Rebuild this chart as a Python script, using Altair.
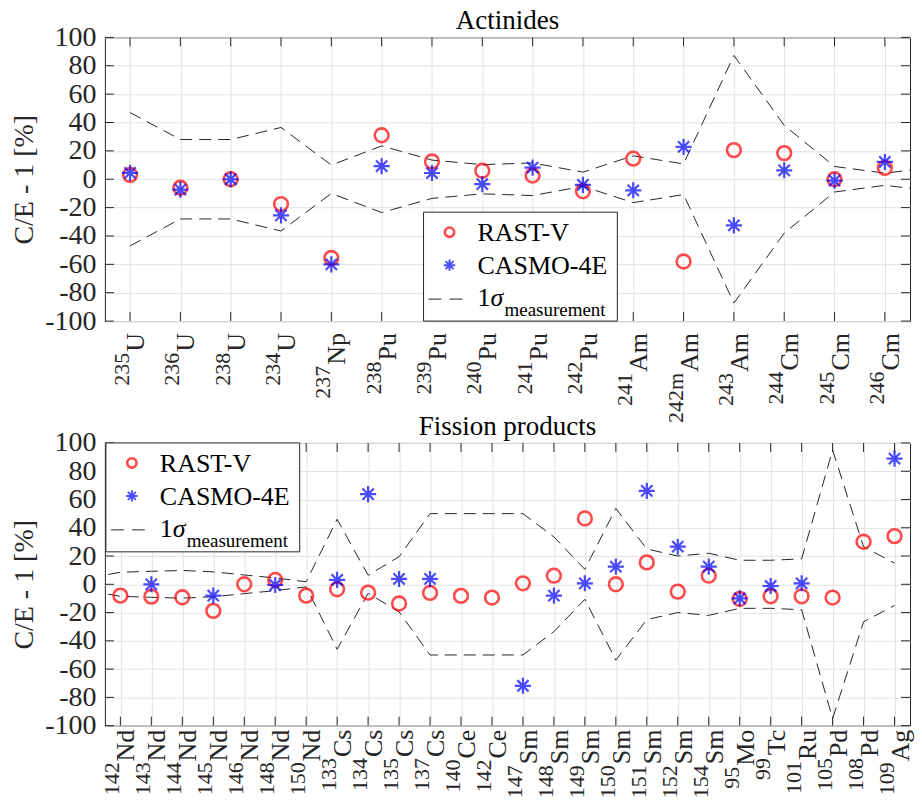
import altair as alt
import pandas as pd

FONT = "Liberation Serif"
INK = "#262626"
GRID = "#e2e2e2"

# ---------------- Actinides ----------------
act_mass = ["235", "236", "238", "234", "237", "238", "239", "240", "241", "242",
            "241", "242m", "243", "244", "245", "246"]
act_elem = ["U", "U", "U", "U", "Np", "Pu", "Pu", "Pu", "Pu", "Pu",
            "Am", "Am", "Am", "Cm", "Cm", "Cm"]
act_rast = [3.0, -6.0, 0.0, -17.5, -55.5, 31.0, 12.5, 6.0, 2.6, -8.5,
            14.5, -58.0, 20.5, 18.4, 0.0, 8.0]
act_casmo = [4.5, -7.3, 0.0, -25.5, -60.0, 9.2, 4.4, -3.5, 8.2, -4.0,
             -7.8, 22.8, -32.5, 6.3, -1.0, 12.2]
# 1-sigma measurement band (positions 1..17; the last one sits past the axis edge)
act_sigma_pos = list(range(1, 18))
act_sigma = [47.0, 28.0, 28.0, 36.5, 10.0, 23.5, 13.5, 10.3, 11.5, 5.0,
             16.5, 10.8, 87.3, 38.0, 9.0, 4.3, 8.5]

# ---------------- Fission products ----------------
fp_mass = ["142", "143", "144", "145", "146", "148", "150", "133", "134", "135",
           "137", "140", "142", "147", "148", "149", "150", "151", "152", "154",
           "95", "99", "101", "105", "108", "109"]
fp_elem = ["Nd", "Nd", "Nd", "Nd", "Nd", "Nd", "Nd", "Cs", "Cs", "Cs",
           "Cs", "Ce", "Ce", "Sm", "Sm", "Sm", "Sm", "Sm", "Sm", "Sm",
           "Mo", "Tc", "Ru", "Pd", "Pd", "Ag"]
fp_rast = [-8.0, -8.7, -9.2, -18.8, 0.0, 3.1, -8.0, -3.5, -5.9, -13.6,
           -6.1, -8.2, -9.4, 0.7, 6.1, 46.6, 0.0, 15.5, -5.2, 6.1,
           -10.4, -8.5, -8.5, -9.4, 30.1, 34.1]
fp_casmo = [None, 0.0, None, -8.0, None, -0.5, None, 3.1, 63.8, 3.8,
            3.8, None, None, -71.8, -8.0, 0.7, 12.5, 66.1, 26.6, 12.5,
            -9.9, -1.2, 0.7, None, None, 88.9]
# positions 0..26; the first one sits past the left axis edge
fp_sigma_pos = list(range(0, 27))
fp_sigma = [4.6, 8.5, 9.2, 9.8, 8.8, 6.6, 4.5, 1.8, 46.0, 6.4,
            19.5, 50.0, 50.0, 50.0, 50.0, 33.5, 10.6, 53.7, 25.0, 20.0,
            22.0, 17.0, 17.0, 18.0, 95.0, 26.5, 15.0]

Y_TICKS = list(range(-100, 101, 20))
ASTERISK = "M0,-1L0,1M-1,0L1,0M-0.7,-0.7L0.7,0.7M-0.7,0.7L0.7,-0.7"

# approximate advance widths (em) of the serif face, used to stack the
# superscript mass number right after the element symbol
EM = {"U": .722, "N": .722, "P": .556, "A": .722, "C": .667, "S": .556, "M": .889,
      "T": .611, "R": .667, "p": .5, "u": .5, "m": .778, "d": .5, "s": .389,
      "e": .444, "o": .5, "c": .444, "g": .5}

EL_SIZE = 26
MASS_SIZE = 22
W = 806


def panel(title, mass, elem, rast, casmo, sig_pos, sig, H, label_gap, leg_x, leg_y):
    n = len(mass)
    pos = list(range(1, n + 1))
    df = pd.DataFrame({"pos": pos, "mass": mass, "elem": elem,
                       "rast": rast, "casmo": casmo})
    band = pd.DataFrame({
        "pos": sig_pos + sig_pos,
        "val": sig + [-s for s in sig],
        "side": ["upper"] * len(sig) + ["lower"] * len(sig),
    })
    yt = pd.DataFrame({"v": Y_TICKS})
    one = pd.DataFrame({"k": [0]})

    xs = alt.Scale(domain=[0.5, n + 0.5], nice=False, zero=False)
    ys = alt.Scale(domain=[-100, 100], nice=False, zero=False)

    xax = alt.Axis(values=pos, labels=False, ticks=False, domain=False,
                   grid=True, gridColor=GRID, title=None)
    yax = alt.Axis(values=Y_TICKS, ticks=False, domain=False, grid=True,
                   gridColor=GRID, labelFont=FONT, labelFontSize=28,
                   labelColor=INK, labelPadding=9, labelOverlap=False,
                   labelBound=False, labelFlush=False,
                   labelExpr="'' + datum.value",
                   title="C/E - 1 [%]",
                   titleFont=FONT, titleFontSize=28, titleFontWeight="normal",
                   titleColor=INK, titlePadding=6)

    def X(field):
        return alt.X(field, scale=xs, axis=xax)

    def Y(field):
        return alt.Y(field, scale=ys, axis=yax)

    base = alt.Chart(df)

    band_layer = alt.Chart(band).mark_line(
        clip=True, color=INK, strokeWidth=1, strokeDash=[12, 7]
    ).encode(x=X("pos:Q"), y=Y("val:Q"), detail="side:N", order="pos:Q")

    rast_layer = base.mark_point(
        shape="circle", filled=False, color="#ff0000", size=190, strokeWidth=2.6
    ).encode(x=X("pos:Q"), y=Y("rast:Q"))

    casmo_layer = base.mark_point(
        shape=ASTERISK, filled=False, color="#0000ff", size=260, strokeWidth=2.2
    ).encode(x=X("pos:Q"), y=Y("casmo:Q"))

    # inward ticks on all four sides
    ticks = [
        alt.Chart(yt).mark_rule(color=INK).encode(
            y=Y("v:Q"), x=alt.value(0), x2=alt.value(9)),
        alt.Chart(yt).mark_rule(color=INK).encode(
            y=Y("v:Q"), x=alt.value(W - 9), x2=alt.value(W)),
        base.mark_rule(color=INK).encode(
            x=X("pos:Q"), y=alt.value(H - 9), y2=alt.value(H)),
        base.mark_rule(color=INK).encode(
            x=X("pos:Q"), y=alt.value(0), y2=alt.value(9)),
    ]

    # rotated nuclide labels: element symbol plus raised mass number
    labels = [
        base.mark_text(angle=270, align="right", baseline="middle", font=FONT,
                       fontSize=EL_SIZE, color=INK, dy=6).encode(
            x=X("pos:Q"), y=alt.value(H + label_gap), text="elem:N")
    ]
    for e in dict.fromkeys(elem):
        w = sum(EM[c] for c in e) * EL_SIZE
        labels.append(
            base.transform_filter(alt.datum.elem == e).mark_text(
                angle=270, align="right", baseline="middle", font=FONT,
                fontSize=MASS_SIZE, color=INK, dx=-(w + 1), dy=-8
            ).encode(x=X("pos:Q"), y=alt.value(H + label_gap), text="mass:N")
        )

    # legend box
    lg = alt.Chart(one)
    legend = [
        lg.mark_rect(fill="white", stroke=INK, strokeWidth=1).encode(
            x=alt.value(leg_x), x2=alt.value(leg_x + 194),
            y=alt.value(leg_y), y2=alt.value(leg_y + 109)),
        lg.mark_point(shape="circle", filled=False, color="#ff0000", size=90,
                      strokeWidth=2.6).encode(
            x=alt.value(leg_x + 26), y=alt.value(leg_y + 20)),
        lg.mark_point(shape=ASTERISK, filled=False, color="#0000ff", size=130,
                      strokeWidth=2).encode(
            x=alt.value(leg_x + 26), y=alt.value(leg_y + 53)),
        lg.mark_rule(color=INK, strokeWidth=1, strokeDash=[13, 8]).encode(
            x=alt.value(leg_x + 5), x2=alt.value(leg_x + 44),
            y=alt.value(leg_y + 87)),
        lg.mark_text(align="left", baseline="middle", font=FONT, fontSize=26,
                     color="black").encode(
            x=alt.value(leg_x + 54), y=alt.value(leg_y + 21),
            text=alt.value("RAST-V")),
        lg.mark_text(align="left", baseline="middle", font=FONT, fontSize=26,
                     color="black").encode(
            x=alt.value(leg_x + 54), y=alt.value(leg_y + 54),
            text=alt.value("CASMO-4E")),
        lg.mark_text(align="left", baseline="middle", font=FONT, fontSize=26,
                     color="black").encode(
            x=alt.value(leg_x + 54), y=alt.value(leg_y + 86),
            text=alt.value("1")),
        lg.mark_text(align="left", baseline="middle", font=FONT, fontSize=26,
                     fontStyle="italic", color="black").encode(
            x=alt.value(leg_x + 67), y=alt.value(leg_y + 86),
            text=alt.value("σ")),
        lg.mark_text(align="left", baseline="middle", font=FONT, fontSize=19,
                     color="black").encode(
            x=alt.value(leg_x + 81), y=alt.value(leg_y + 98),
            text=alt.value("measurement")),
    ]

    return alt.layer(
        band_layer, *ticks, rast_layer, casmo_layer, *labels, *legend
    ).properties(
        width=W, height=H,
        title=alt.TitleParams(title, font=FONT, fontSize=27, fontWeight="normal",
                              color="black", frame="group", anchor="middle",
                              offset=-12),
    )


top = panel("Actinides", act_mass, act_elem, act_rast, act_casmo,
            act_sigma_pos, act_sigma, 284, 12, 319, 175)
bottom = panel("Fission products", fp_mass, fp_elem, fp_rast, fp_casmo,
               fp_sigma_pos, fp_sigma, 283, 4, 1, 0)

chart = alt.vconcat(top, bottom, spacing=122, bounds="flush").properties(
    padding={"left": 10, "top": 6, "right": 8, "bottom": 0}
).configure_view(stroke=INK, strokeWidth=1)

chart.save("out.html", embed_options={"renderer": "svg", "actions": False})
